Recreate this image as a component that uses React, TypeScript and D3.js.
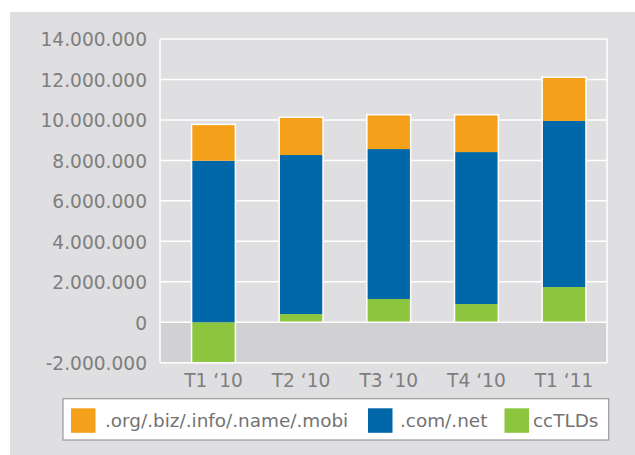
import React from "react";
import * as d3 from "d3";

// quarters and series values (domains registered)
const quarters = ["T1 \u201810", "T2 \u201810", "T3 \u201810", "T4 \u201810", "T1 \u201811"];
const otherTlds = [1800000, 1870000, 1700000, 1850000, 2160000];
const comNet = [7980000, 7860000, 7410000, 7510000, 8210000];
const ccTlds = [-2000000, 405000, 1150000, 900000, 1740000];
const yTicks = [-2000000, 0, 2000000, 4000000, 6000000, 8000000, 10000000, 12000000, 14000000];

const seriesNames = [".org/.biz/.info/.name/.mobi", ".com/.net", "ccTLDs"];
const colors = ["#f5a01b", "#0068a8", "#8cc63f"];

const W = 635;
const H = 455;
const plot = { left: 160, top: 39, right: 607, bottom: 362.7 };
const FONT = "'DejaVu Sans', sans-serif";

const fmt = d3
  .formatLocale({ decimal: ",", thousands: ".", grouping: [3], currency: ["", ""], minus: "-" })
  .format(",d");

export default function App() {
  const rows = quarters.map((q, i) => ({
    q,
    cc: ccTlds[i],
    com: comNet[i],
    other: otherTlds[i],
  }));

  // stack order: ccTLDs at bottom, then .com/.net, then others
  const stack = d3
    .stack<any>()
    .keys(["cc", "com", "other"])
    .offset(d3.stackOffsetDiverging);
  const layers = stack(rows);
  const colorByKey: Record<string, string> = { cc: colors[2], com: colors[1], other: colors[0] };

  const x = d3
    .scaleBand()
    .domain(quarters)
    .range([plot.left, plot.right])
    .paddingInner(0.5)
    .paddingOuter(0.3)
    .align(0.6);

  const y = d3.scaleLinear().domain([-2000000, 14000000]).range([plot.bottom, plot.top]);

  return (
    <svg
      width={W}
      height={H}
      style={{ position: "absolute", left: 0, top: 0, background: "#fff" }}
      fontFamily={FONT}
    >
      <rect x={10} y={12} width={W - 10} height={H - 12} fill="#dfdfe1" />
      {/* negative band */}
      <rect x={plot.left} y={y(0)} width={plot.right - plot.left} height={y(-2000000) - y(0)} fill="#d1d1d3" />

      {/* grid */}
      {yTicks.map((t) => (
        <line key={t} x1={plot.left} x2={plot.right} y1={y(t)} y2={y(t)} stroke="#fff" strokeWidth={1.5} />
      ))}
      <line x1={plot.left} x2={plot.left} y1={plot.top} y2={plot.bottom} stroke="#fff" strokeWidth={1.5} />
      <line x1={plot.right} x2={plot.right} y1={plot.top} y2={plot.bottom} stroke="#fff" strokeWidth={1.5} />

      {/* bars */}
      {layers.map((layer) =>
        layer.map((d, i) => (
          <rect
            key={layer.key + i}
            x={x(quarters[i])}
            width={x.bandwidth()}
            y={y(Math.max(d[0], d[1]))}
            height={Math.abs(y(d[0]) - y(d[1]))}
            fill={colorByKey[layer.key]}
          />
        ))
      )}
      {/* white outline round each stack */}
      {rows.map((r, i) => {
        const lo = Math.min(0, r.cc);
        const hi = Math.max(0, r.cc) + r.com + r.other;
        return (
          <rect
            key={"o" + i}
            x={x(r.q)}
            width={x.bandwidth()}
            y={y(hi)}
            height={y(lo) - y(hi)}
            fill="none"
            stroke="#fff"
            strokeWidth={1.5}
          />
        );
      })}

      {/* y labels */}
      {yTicks.map((t) => (
        <text
          key={"yl" + t}
          x={147}
          y={y(t)}
          dy="0.4em"
          textAnchor="end"
          fontSize={18.6}
          fill="#7e7e7e"
        >
          {fmt(t)}
        </text>
      ))}

      {/* x labels */}
      {quarters.map((q) => (
        <text
          key={"xl" + q}
          x={(x(q) as number) + x.bandwidth() / 2}
          y={387}
          textAnchor="middle"
          fontSize={18.6}
          fill="#7e7e7e"
        >
          {q}
        </text>
      ))}

      {/* legend */}
      <rect x={63} y={398.7} width={545.7} height={41.3} fill="#fff" stroke="#9a9a9a" strokeWidth={1.2} />
      {[
        { sx: 71, tx: 105 },
        { sx: 368, tx: 400 },
        { sx: 504.5, tx: 533 },
      ].map((p, i) => (
        <g key={"lg" + i}>
          <rect x={p.sx} y={408.3} width={24.5} height={24.5} fill={colors[i]} />
          <text x={p.tx} y={427} fontSize={18.4} fill="#737373">
            {seriesNames[i]}
          </text>
        </g>
      ))}
    </svg>
  );
}
